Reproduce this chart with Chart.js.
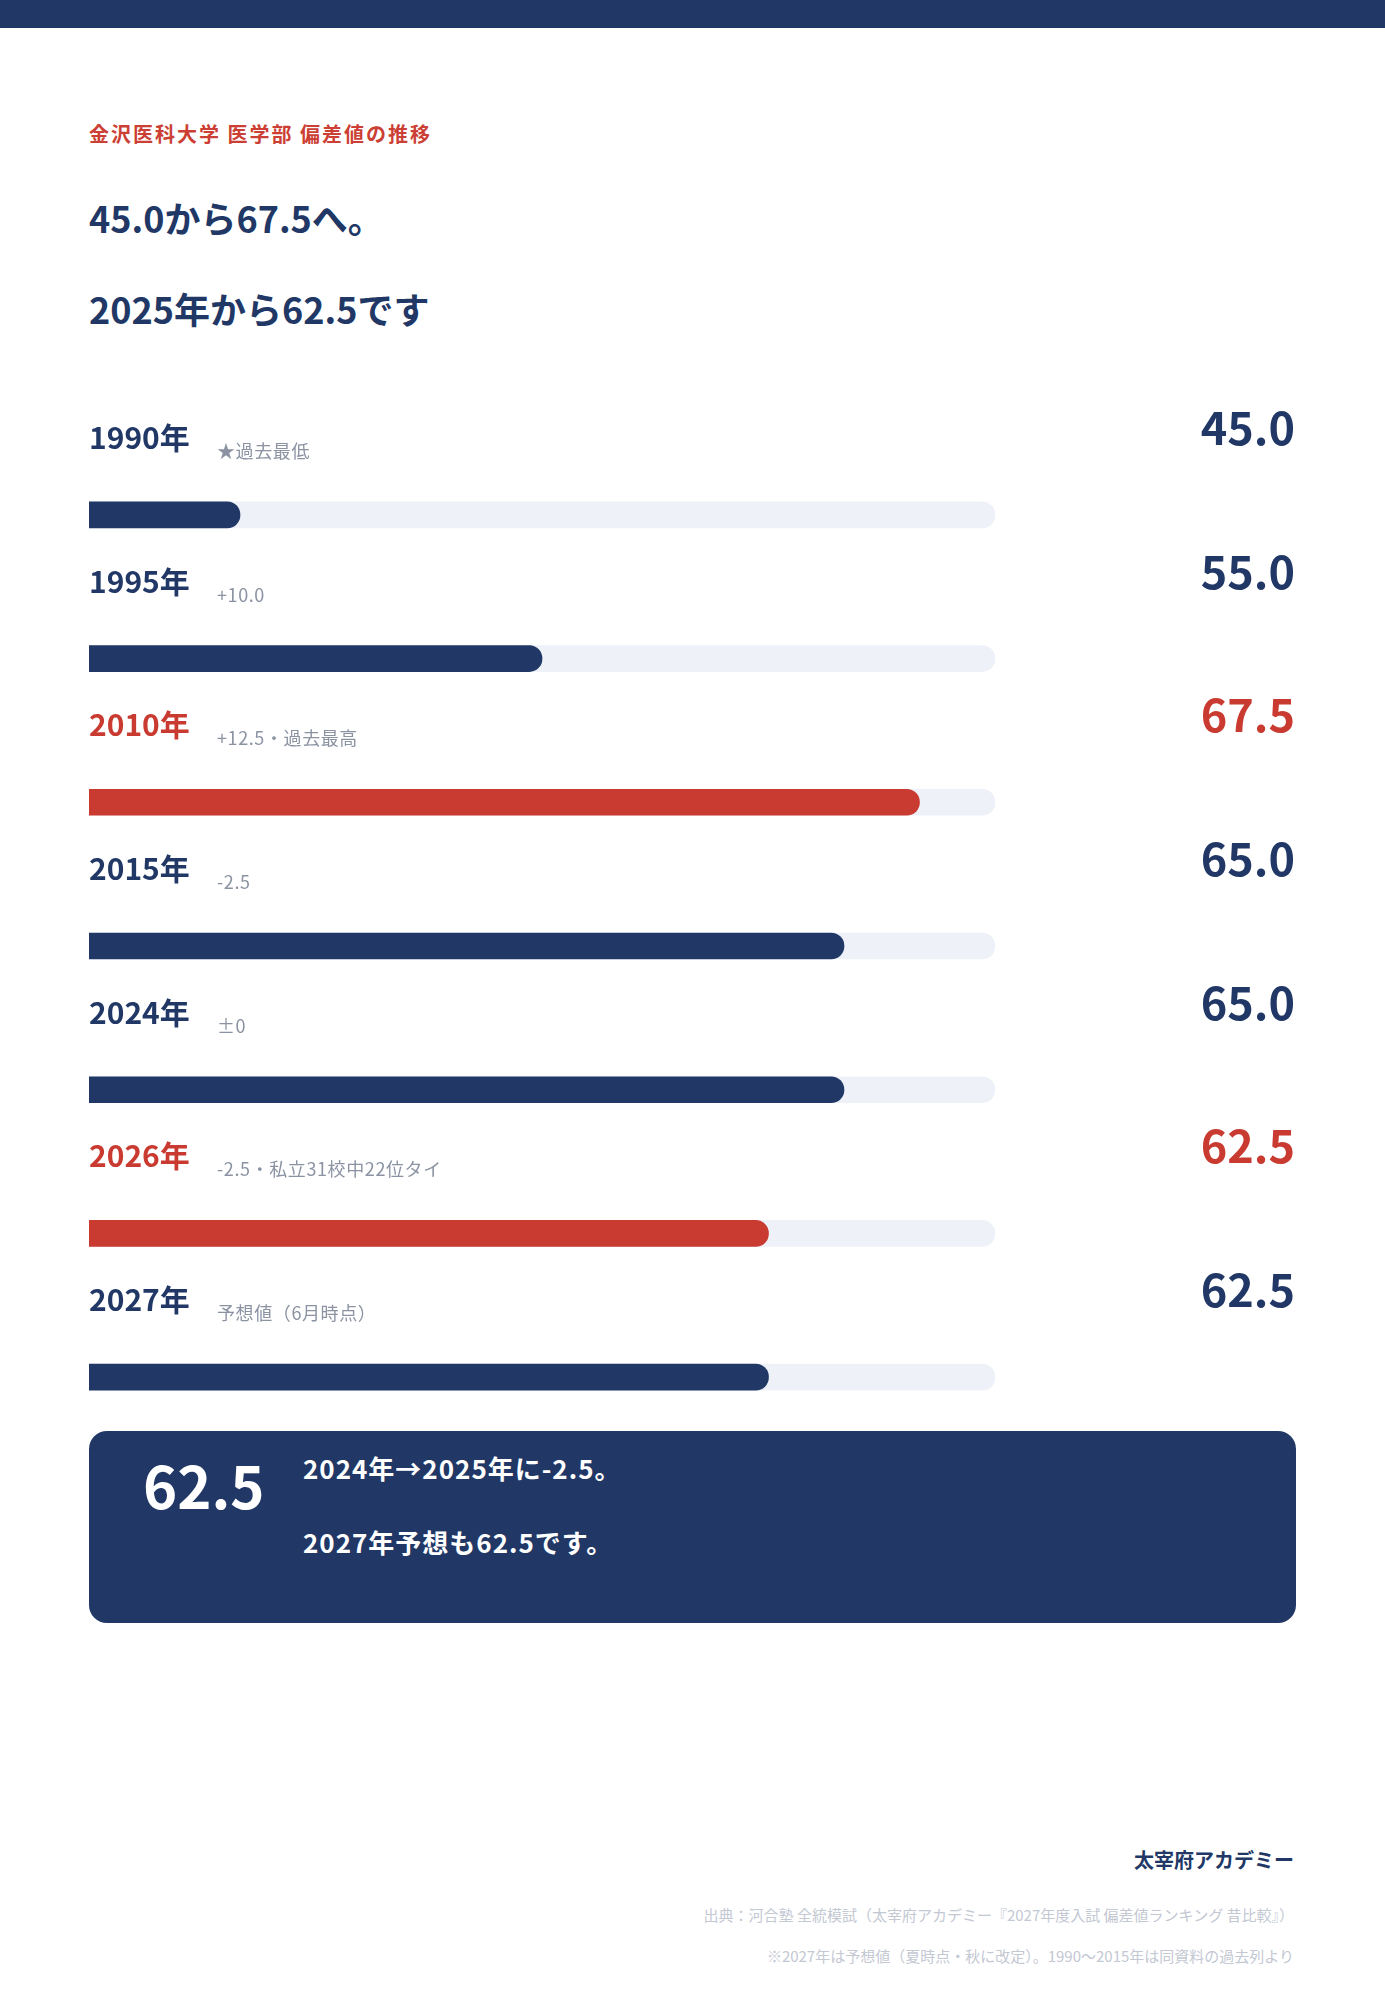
<!DOCTYPE html>
<html lang="ja">
<head>
<meta charset="utf-8">
<title>金沢医科大学 医学部 偏差値の推移</title>
<script src="https://cdn.jsdelivr.net/npm/chart.js@4.4.1/dist/chart.umd.min.js"></script>
<style>
  html, body { margin: 0; padding: 0; background: #fff; }
  body {
    width: 1385px; height: 2000px; position: relative; overflow: hidden;
    font-family: "Noto Sans CJK JP", "Noto Sans", sans-serif;
  }
  .topbar { position: absolute; left: 0; top: 0; width: 1385px; height: 28px; background: #213866; }
  .abs { position: absolute; white-space: nowrap; line-height: 1; }
  .kicker { left: 89px; top: 124px; font-size: 20px; font-weight: 700; color: #cc3f35; letter-spacing: 2px; }
  .lead { left: 89px; font-size: 36px; font-weight: 700; color: #213866; }
  #chartWrap { position: absolute; left: 0; top: 380px; width: 1385px; height: 1069px; }
  .callout {
    position: absolute; left: 89px; top: 1431px; width: 1207px; height: 192px;
    background: #213866; border-radius: 18px; color: #fff; z-index: 2;
  }
  .callout .big { left: 54px; top: 24px; font-size: 58px; font-weight: 700; }
  .callout .txt { left: 214px; font-size: 26px; font-weight: 700; letter-spacing: 1px; }
  .brand { right: 91px; top: 1850px; font-size: 20px; font-weight: 700; color: #213866; }
  .src { right: 91px; font-size: 15px; color: #c3c8d3; }
</style>
</head>
<body>
<div class="topbar"></div>
<div class="abs kicker">金沢医科大学 医学部 偏差値の推移</div>
<div class="abs lead" style="top:199px">45.0から67.5へ。</div>
<div class="abs lead" style="top:290px">2025年から62.5です</div>

<div id="chartWrap"><canvas id="scoreChart" width="1385" height="1069"></canvas></div>

<div class="callout">
  <div class="abs big">62.5</div>
  <div class="abs txt" style="top:24px">2024年→2025年に-2.5。</div>
  <div class="abs txt" style="top:98px">2027年予想も62.5です。</div>
</div>

<div class="abs brand">太宰府アカデミー</div>
<div class="abs src" style="top:1907px">出典：河合塾 全統模試（太宰府アカデミー『2027年度入試 偏差値ランキング 昔比較』）</div>
<div class="abs src" style="top:1948px">※2027年は予想値（夏時点・秋に改定）。1990〜2015年は同資料の過去列より</div>

<script>
const years = ["1990年", "1995年", "2010年", "2015年", "2024年", "2026年", "2027年"];
const scores = [45.0, 55.0, 67.5, 65.0, 65.0, 62.5, 62.5];
const notes = ["★過去最低", "+10.0", "+12.5・過去最高", "-2.5", "±0", "-2.5・私立31校中22位タイ", "予想値（6月時点）"];
const highlighted = [false, false, true, false, false, true, false];
const axisMin = 40;
const axisMax = 70;

const NAVY = "#213866";
const RED = "#c93a30";
const TRACK = "#eef1f8";
const GRAY = "#8b93a3";

const fillColors = highlighted.map((h) => (h ? RED : NAVY));
const trackValues = years.map(() => axisMax);

// year label, note and score text above each bar
const rowLabels = {
  id: "rowLabels",
  afterDatasetsDraw(chart) {
    const { ctx, scales } = chart;
    const left = chart.chartArea.left;
    ctx.save();
    years.forEach((year, i) => {
      const cy = scales.y.getPixelForValue(i);
      const color = highlighted[i] ? RED : NAVY;

      ctx.textBaseline = "alphabetic";
      ctx.textAlign = "left";
      ctx.fillStyle = color;
      ctx.font = '700 30px "Noto Sans CJK JP", sans-serif';
      ctx.fillText(year, left, cy - 66);

      ctx.fillStyle = GRAY;
      ctx.font = '400 18px "Noto Sans CJK JP", sans-serif';
      ctx.letterSpacing = "0.6px";
      ctx.fillText(notes[i], left + 128, cy - 57);
      ctx.letterSpacing = "0px";

      ctx.textAlign = "right";
      ctx.fillStyle = color;
      ctx.font = '700 45px "Noto Sans CJK JP", sans-serif';
      ctx.fillText(scores[i].toFixed(1), 1295, cy - 70);
    });
    ctx.restore();
  },
};

new Chart(document.getElementById("scoreChart").getContext("2d"), {
  type: "bar",
  data: {
    labels: years,
    datasets: [
      {
        label: "偏差値",
        data: scores,
        backgroundColor: fillColors,
        order: 0,
      },
      {
        label: "track",
        data: trackValues,
        backgroundColor: TRACK,
        order: 1,
      },
    ],
  },
  options: {
    indexAxis: "y",
    responsive: false,
    animation: false,
    devicePixelRatio: 1,
    layout: { padding: { top: 63, bottom: 0, left: 89, right: 390 } },
    datasets: {
      bar: {
        grouped: false,
        barThickness: 26,
        borderRadius: 13,
        borderSkipped: false,
      },
    },
    plugins: {
      legend: { display: false },
      tooltip: { enabled: false },
    },
    scales: {
      x: { min: axisMin, max: axisMax, display: false },
      y: { display: false, offset: true },
    },
  },
  plugins: [rowLabels],
});
</script>
</body>
</html>
